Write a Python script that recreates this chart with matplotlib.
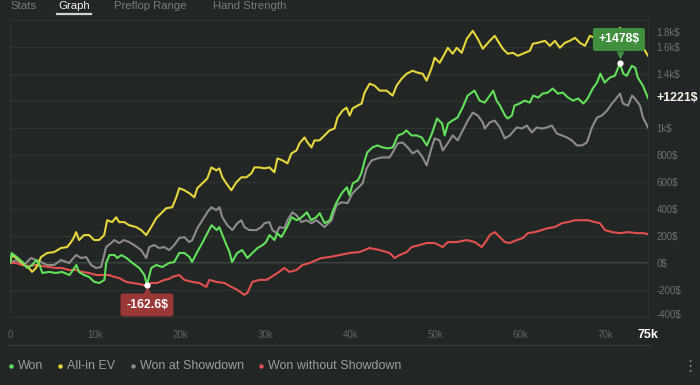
import numpy as np
import matplotlib.pyplot as plt
from matplotlib.lines import Line2D
from matplotlib.transforms import offset_copy, ScaledTranslation

plt.rcParams['font.family'] = ['Liberation Sans', 'DejaVu Sans']

# hands (thousands) and cumulative winnings ($)
won_x = [0, 0.2, 0.8, 1.6, 2.0, 2.6, 3.1, 3.4, 3.8, 4.6, 5.4, 6.1, 7.0, 7.8, 8.1, 8.7, 9.3, 9.9,
         10.5, 11.1, 11.3, 11.7, 12.3, 12.6, 13.1, 13.7, 14.4, 15.2, 15.8, 16.1, 16.6, 17.2, 17.9,
         18.7, 19.3, 19.9, 20.5, 21.1, 21.4, 22.0, 22.6, 23.2, 23.7, 24.3, 24.6, 25.2, 25.8, 26.1,
         26.7, 27.3, 27.9, 28.5, 29.1, 29.7, 30.1, 30.5, 31.1, 31.4, 31.9, 32.5, 33.1, 33.7, 34.3,
         34.9, 35.4, 36.0, 36.4, 37.0, 37.6, 37.9, 38.4, 39.0, 39.6, 39.9, 40.3, 40.9, 41.3, 41.7,
         42.0, 42.6, 43.2, 43.8, 44.4, 45.0, 45.6, 46.2, 46.6, 47.2, 47.8, 48.4, 49.0, 49.6, 50.2,
         50.8, 51.1, 51.5, 52.0, 52.6, 53.2, 53.8, 54.6, 55.2, 55.8, 56.4, 56.8, 57.2, 57.6, 58.2,
         58.5, 59.0, 59.3, 59.9, 60.5, 61.1, 61.5, 62.1, 62.6, 63.2, 63.8, 64.4, 65.0, 65.6, 66.2,
         66.8, 67.4, 67.9, 68.5, 69.0, 69.4, 69.9, 70.5, 71.1, 71.7, 72.1, 72.5, 73.1, 73.5, 73.8,
         74.4, 75.0]
won_y = [0, 74, 44, 0, -37, -15, 22, 0, -74, -66, -74, -66, -89, -15, -66, -89, -103, -140,
         -148, -125, 0, 59, 59, 37, 59, 37, 0, -37, -89, -162.6, -37, -15, -30,
         0, 7, 74, 74, 44, 7, 81, 148, 221, 280, 244, 266, 170, 81, 7,
         74, 96, 37, 74, 111, 133, 155, 207, 170, 221, 192, 258, 339, 317, 339,
         376, 317, 339, 369, 295, 317, 376, 450, 517, 561, 502, 590, 613, 664, 760,
         819, 856, 871, 856, 849, 856, 945, 959, 982, 945, 945, 930, 871, 959, 1070,
         1033, 945, 1033, 1055, 1077, 1151, 1240, 1277, 1203, 1188, 1240, 1277, 1203, 1166, 1092,
         1070, 1092, 1166, 1181, 1203, 1188, 1240, 1225, 1255, 1262, 1292, 1255, 1262, 1225, 1203,
         1218, 1181, 1218, 1292, 1336, 1402, 1336, 1373, 1387, 1478, 1402, 1387, 1461, 1446, 1373,
         1314, 1221]

ev_x = [0, 0.24, 1.06, 1.65, 2.24, 2.59, 3.06, 3.65, 4.36, 5.18, 6.0, 6.71, 7.18, 7.54, 7.77,
        8.12, 8.71, 9.3, 9.89, 10.48, 11.07, 11.42, 12.01, 12.48, 12.83, 13.42, 14.01, 14.84,
        15.42, 16.01, 16.6, 17.19, 17.9, 18.37, 19.07, 19.55, 19.9, 20.49, 21.08, 21.67, 22.02,
        22.61, 23.2, 23.67, 24.26, 24.61, 24.96, 25.43, 26.02, 26.61, 27.2, 27.79, 28.38, 28.73,
        29.32, 29.91, 30.5, 31.08, 31.44, 32.03, 32.62, 33.09, 33.68, 34.03, 34.62, 34.97, 35.44,
        35.79, 36.38, 36.97, 37.56, 38.15, 38.5, 39.09, 39.56, 39.92, 40.27, 40.86, 41.33, 41.68,
        42.27, 42.86, 43.45, 44.27, 44.98, 45.45, 46.04, 46.63, 47.33, 47.92, 48.51, 48.98, 49.57,
        49.92, 50.51, 51.1, 51.46, 52.04, 52.51, 53.1, 53.69, 54.4, 54.99, 55.58, 56.4, 56.99,
        57.34, 57.93, 58.52, 59.11, 59.7, 60.52, 61.11, 61.46, 62.05, 62.88, 63.47, 64.05, 64.64,
        65.23, 65.82, 66.41, 67.0, 67.59, 68.17, 69.0, 69.94, 70.76, 71.71, 72.3, 73.47, 74.3, 75]
ev_y = [0, 59, 22, -15, -37, -66, -37, 44, 74, 81, 111, 118, 155, 192, 229,
        170, 207, 207, 170, 170, 207, 317, 303, 339, 303, 303, 280, 266,
        244, 207, 266, 332, 376, 406, 413, 487, 554, 539, 517, 487, 554,
        590, 627, 708, 686, 701, 635, 590, 539, 598, 635, 635, 664, 708,
        708, 701, 708, 672, 775, 760, 738, 812, 834, 886, 930, 893, 856,
        908, 908, 945, 982, 996, 1077, 1129, 1151, 1092, 1144, 1166, 1181, 1262,
        1328, 1314, 1277, 1277, 1240, 1314, 1365, 1402, 1424, 1410, 1402, 1351, 1446,
        1520, 1483, 1550, 1594, 1550, 1594, 1557, 1660, 1720, 1660, 1587, 1646, 1683,
        1646, 1587, 1550, 1557, 1535, 1557, 1572, 1624, 1631, 1646, 1609, 1646, 1594,
        1631, 1646, 1668, 1631, 1609, 1683, 1660, 1660, 1675, 1742, 1646, 1631, 1609, 1535]

sd_x = [0, 0.71, 1.65, 2.47, 3.06, 3.65, 4.36, 5.18, 6.0, 6.95, 7.77, 8.36, 8.95, 9.54, 10.13,
        10.71, 11.3, 11.89, 12.25, 12.83, 13.42, 14.01, 14.6, 15.42, 16.01, 16.37, 16.96, 17.54,
        18.13, 18.72, 19.31, 19.9, 20.49, 21.08, 21.43, 22.02, 22.61, 23.2, 23.67, 24.26, 24.61,
        24.96, 25.55, 26.14, 26.73, 27.2, 27.55, 28.14, 28.97, 29.55, 29.91, 30.5, 30.85, 31.32,
        31.67, 32.26, 32.62, 33.2, 33.68, 34.26, 34.85, 35.44, 36.03, 36.97, 37.8, 38.38, 38.97,
        39.68, 40.27, 40.86, 41.45, 41.92, 42.51, 43.21, 43.8, 44.63, 44.98, 45.57, 46.16, 46.75,
        47.33, 47.92, 48.51, 48.98, 49.57, 49.92, 50.51, 50.87, 51.46, 52.04, 52.63, 53.22, 53.81,
        54.4, 54.99, 55.58, 55.81, 56.4, 56.99, 57.58, 58.17, 58.75, 59.58, 60.17, 60.76, 61.35,
        61.93, 62.52, 63.11, 63.7, 64.29, 64.88, 65.47, 66.05, 66.64, 67.23, 67.82, 68.41, 69.0,
        69.59, 70.18, 70.76, 71.35, 71.71, 72.06, 72.65, 73.12, 73.47, 74.06, 74.41, 75]
sd_y = [0, 22, -15, 37, 22, 7, -15, -15, 22, 0, 59, 37, 44, -15, -37,
        -30, 118, 148, 170, 148, 170, 155, 133, 96, 37, 118, 133, 111,
        118, 96, 133, 185, 192, 155, 170, 258, 317, 376, 413, 391, 413,
        339, 280, 244, 295, 317, 266, 244, 244, 266, 295, 303, 244, 221,
        266, 258, 317, 376, 354, 303, 317, 295, 317, 266, 317, 428, 450,
        443, 517, 554, 590, 701, 760, 775, 782, 782, 819, 886, 893, 856,
        812, 834, 782, 723, 856, 923, 908, 834, 886, 945, 908, 982, 1055,
        1114, 1092, 1041, 996, 1041, 1055, 1004, 923, 945, 1004, 996, 1018, 967,
        1004, 996, 1004, 1018, 959, 945, 930, 908, 871, 871, 893, 1004, 1077,
        1092, 1129, 1181, 1225, 1255, 1181, 1166, 1240, 1218, 1166, 1077, 1004]

nsd_x = [0, 0.71, 1.41, 2.24, 3.06, 3.77, 4.59, 5.42, 6.12, 6.95, 7.77, 8.48, 9.3, 10.13, 10.83,
         11.66, 12.25, 12.83, 13.66, 14.36, 15.19, 16.01, 16.6, 17.31, 18.13, 18.72, 19.07, 19.9,
         20.49, 21.43, 22.25, 23.08, 23.43, 24.26, 25.2, 26.02, 26.73, 27.55, 27.91, 28.49, 29.32,
         30.14, 30.73, 31.44, 32.26, 32.85, 33.68, 34.38, 35.21, 36.03, 36.62, 37.56, 38.74, 39.92,
         41.09, 42.27, 43.45, 44.63, 45.21, 45.8, 46.63, 47.22, 48.16, 48.98, 49.92, 50.87, 51.46,
         52.51, 53.69, 54.64, 55.46, 56.05, 56.4, 56.99, 57.58, 58.17, 58.75, 59.58, 60.29, 60.87,
         61.7, 62.52, 63.23, 64.05, 64.88, 65.58, 66.41, 67.23, 67.94, 68.76, 69.35, 69.94, 70.76,
         71.71, 72.65, 73.71, 74.41, 75]
nsd_y = [0, 0, -15, -22, -15, -22, -30, -37, -37, -52, -52, -66, -74, -89, -89,
         -89, -103, -111, -140, -148, -155, -170, -148, -148, -125, -118, -103, -89,
         -125, -140, -148, -177, -125, -140, -148, -177, -199, -236, -221, -140, -125,
         -125, -103, -74, -37, -66, -52, -15, 0, 22, 37, 44, 59, 74,
         81, 111, 96, 74, 37, 59, 81, 118, 133, 148, 148, 118, 155,
         155, 170, 155, 118, 170, 207, 229, 192, 155, 148, 170, 185, 221,
         229, 244, 258, 266, 295, 303, 317, 317, 317, 303, 295, 244, 229,
         221, 229, 221, 221, 214]

series_names = ['Won', 'All-in EV', 'Won at Showdown', 'Won without Showdown']
series_colors = ['#62e05a', '#e6d53c', '#8c8c8c', '#e2514f']

y_ticks = [-400, -200, 0, 200, 400, 600, 800, 1000, 1200, 1400, 1600, 1800]
y_tick_labels = ['-400$', '-200$', '0$', '200$', '400$', '600$', '800$', '1k$', '',
                 '1.4k$', '1.6k$', '1.8k$']
x_ticks = [0, 10, 20, 30, 40, 50, 60, 70, 75]
x_tick_labels = ['0', '10k', '20k', '30k', '40k', '50k', '60k', '70k', '75k']
tabs = ['Stats', 'Graph', 'Preflop Range', 'Hand Strength']
active_tab = 'Graph'

W, H = 700, 385
BG = '#222725'

fig = plt.figure(figsize=(7, 3.85), dpi=100, facecolor=BG)
ax = fig.add_axes([10 / W, 1 - 317 / H, 638 / W, 297 / H])
ax.set_facecolor(BG)
ax.set_xlim(0, 75)
ax.set_ylim(-400, 1800)

ax.set_yticks(y_ticks)
ax.set_yticklabels(y_tick_labels)
ax.yaxis.tick_right()
ax.tick_params(axis='y', length=0, pad=6, labelsize=7, labelcolor='#6e7370')
ax.set_xticks(x_ticks)
ax.set_xticklabels(x_tick_labels)
ax.tick_params(axis='x', length=0, pad=9, labelsize=7, labelcolor='#5f6461')
ax.grid(axis='y', color='#2e3431', lw=1)
ax.axhline(0, color='#474d4a', lw=1.3, zorder=1)
for s in ax.spines.values():
    s.set_color('#2d3330')
    s.set_linewidth(0.8)

# edge labels sit inside the plot area
for lab in ax.get_yticklabels():
    if lab.get_text() == '1.8k$':
        lab.set_transform(lab.get_transform() + ScaledTranslation(0, -0.12, fig.dpi_scale_trans))
    if lab.get_text() == '-400$':
        lab.set_transform(lab.get_transform() + ScaledTranslation(0, 0.03, fig.dpi_scale_trans))
last = ax.get_xticklabels()[-1]
last.set_color('white')
last.set_fontweight('bold')
last.set_fontsize(9)

# lines
ax.plot(sd_x, sd_y, color=series_colors[2], lw=1.5, zorder=3)
ax.plot(nsd_x, nsd_y, color=series_colors[3], lw=1.5, zorder=3)
ax.plot(ev_x, ev_y, color=series_colors[1], lw=1.5, zorder=3)
ax.plot(won_x, won_y, color=series_colors[0], lw=1.5, zorder=4)

# max / min callouts on Won
i_max = int(np.argmax(won_y))
i_min = int(np.argmin(won_y))
ax.annotate(f'+{won_y[i_max]:.0f}$', xy=(won_x[i_max], won_y[i_max]), xytext=(-1, 24),
            textcoords='offset pixels', ha='center', va='center', fontsize=8.8,
            fontweight='bold', color='white', zorder=8,
            bbox=dict(boxstyle='round,pad=0.45,rounding_size=0.2', fc='#3f8f3f', ec='none'))
ax.plot(won_x[i_max], won_y[i_max], marker='v', ms=6, color='#3f8f3f', mec='none', zorder=8,
        transform=offset_copy(ax.transData, fig=fig, x=0, y=8, units='dots'))
ax.plot(won_x[i_max], won_y[i_max], 'o', ms=4.5, color='white', mec='none', zorder=9)

ax.annotate(f'{won_y[i_min]:.1f}$', xy=(won_x[i_min], won_y[i_min]), xytext=(0, -20),
            textcoords='offset pixels', ha='center', va='center', fontsize=8.8,
            fontweight='bold', color='white', zorder=8,
            bbox=dict(boxstyle='round,pad=0.45,rounding_size=0.2', fc='#9a3737', ec='none'))
ax.plot(won_x[i_min], won_y[i_min], marker='^', ms=6, color='#9a3737', mec='none', zorder=8,
        transform=offset_copy(ax.transData, fig=fig, x=0, y=-5, units='dots'))
ax.plot(won_x[i_min], won_y[i_min], 'o', ms=4.5, color='white', mec='none', zorder=9)

# final value label
ax.annotate(f'+{won_y[-1]:.0f}$', xy=(won_x[-1], won_y[-1]), xytext=(8, 0),
            textcoords='offset pixels', ha='left', va='center', fontsize=8.9,
            fontweight='bold', color='#f2f2ea', annotation_clip=False)

# separator under x labels
fig.add_artist(Line2D([8 / W, 650 / W], [1 - 345 / H, 1 - 345 / H], color='#323836', lw=1))

# tabs at the top
renderer = fig.canvas.get_renderer()
tab_x = [10, 58, 114, 213]
for name, tx in zip(tabs, tab_x):
    col = '#eeeeee' if name == active_tab else '#777b79'
    t = fig.text(tx / W, 1 - 1 / H, name, fontsize=8.2, color=col, va='top', ha='left')
    if name == active_tab:
        bb = t.get_window_extent(renderer)
        fig.add_artist(Line2D([bb.x0 / W - 1 / W, bb.x1 / W + 1 / W], [1 - 14 / H, 1 - 14 / H],
                              color='#d2d4d3', lw=1.6))

# legend row
lx = 11
ly = 1 - 366 / H
for name, col in zip(series_names, series_colors):
    fig.add_artist(Line2D([lx / W], [ly], marker='o', ms=3.2, color=col, mec='none'))
    t = fig.text((lx + 7) / W, ly, name, fontsize=9, color='#9a9d9b', va='center', ha='left')
    bb = t.get_window_extent(renderer)
    lx = bb.x1 + 17
fig.text(690 / W, ly, '\u22ee', fontsize=11, color='#8a8d8b', va='center', ha='center',
         family=['DejaVu Sans'])

fig.savefig('out.png', dpi=100, facecolor=BG)
